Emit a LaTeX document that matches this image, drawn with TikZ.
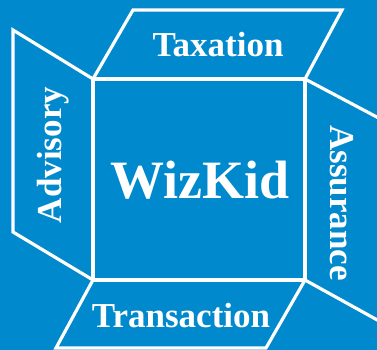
\documentclass[tikz,border=0pt]{standalone}
\usepackage{fontspec}
\setmainfont{Liberation Serif}
\usepackage{tikz}
\usetikzlibrary{positioning}
\definecolor{wizblue}{RGB}{0,137,204}
\tikzstyle{face}=[%
      draw=white, line width=3.2pt, line join=miter, fill=none
]
\tikzstyle{lbl}=[%
      text=white, font=\bfseries\fontsize{35}{35}\selectfont, inner sep=0pt
]
\tikzstyle{big}=[%
      text=white, font=\bfseries\fontsize{54}{54}\selectfont, inner sep=0pt
]
\begin{document}
\begin{tikzpicture}[x=1pt, y=-1pt]
    \useasboundingbox (0,0) rectangle (377,350);
    \clip (0,0) rectangle (377,350);
    \fill[wizblue] (0,0) rectangle (377,350);

    % the faces
    \draw[face] (93,79) rectangle (305,280);
    \draw[face] (93,79) -- (133,10) -- (342,10) -- (305,79);
    \draw[face] (93,79) -- (13,30) -- (13,232) -- (93,280);
    \draw[face] (305,79) -- (390,124);
    \draw[face] (305,280) -- (390,327);
    \draw[face] (93,280) -- (56,348) -- (266,348) -- (305,280);

    \node[big] (wiz)  at (200,180) {WizKid};
    \node[lbl] (tax)  at (218,45)  {Taxation};
    \node[lbl] (tra)  at (181,316) {Transaction};
    \node[lbl, rotate=90]  (adv) at (53,155)  {Advisory};
    \node[lbl, rotate=-90] (ass) at (342,203) {Assurance};
\end{tikzpicture}
\end{document}
